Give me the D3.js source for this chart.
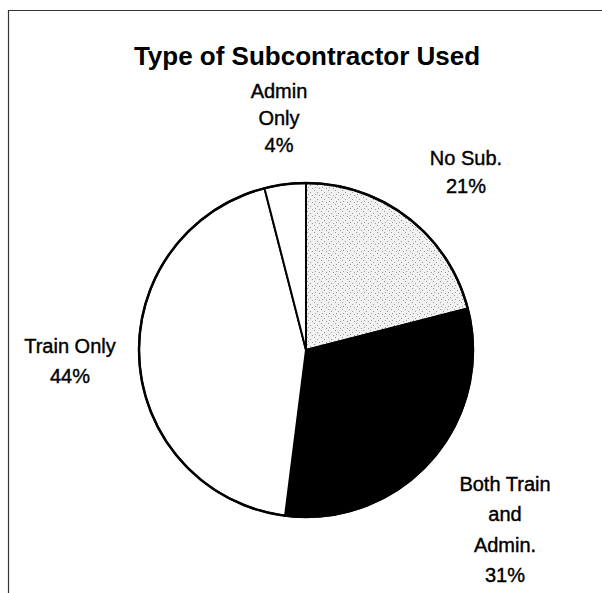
<!DOCTYPE html>
<html>
<head>
<meta charset="utf-8">
<script src="https://cdn.jsdelivr.net/npm/d3@7"></script>
<style>
  body { margin: 0; background: #fff; }
  text { font-family: "Liberation Sans", Arial, sans-serif; fill: #000; }
</style>
</head>
<body>
<script>
// data
var categories = ["No Sub.", "Both Train and Admin.", "Train Only", "Admin Only"];
var shares = [21, 31, 44, 4];
var labelLines = [["No Sub.", "21%"], ["Both Train", "and", "Admin.", "31%"], ["Train Only", "44%"], ["Admin", "Only", "4%"]];
var title = "Type of Subcontractor Used";

var width = 602, height = 593;
var svg = d3.select("body").append("svg")
    .attr("width", width)
    .attr("height", height);

// speckled grey for the "No Sub." slice
var defs = svg.append("defs");
var pat = defs.append("pattern")
    .attr("id", "speckle")
    .attr("patternUnits", "userSpaceOnUse")
    .attr("width", 7).attr("height", 7);
pat.append("rect").attr("width", 7).attr("height", 7).attr("fill", "#f1f1f1");
[[1, 1], [4, 3], [2, 5], [6, 6]].forEach(function(p) {
  pat.append("rect").attr("x", p[0]).attr("y", p[1]).attr("width", 1).attr("height", 1).attr("fill", "#9a9a9a");
});

var fills = d3.scaleOrdinal()
    .domain(categories)
    .range(["url(#speckle)", "#000", "#fff", "#fff"]);

// frame (top and left edges only)
svg.append("line").attr("x1", 8).attr("y1", 10.5).attr("x2", 602).attr("y2", 10.5)
   .attr("stroke", "#333").attr("stroke-width", 1.2);
svg.append("line").attr("x1", 8.5).attr("y1", 10).attr("x2", 8.5).attr("y2", 593)
   .attr("stroke", "#333").attr("stroke-width", 1.2);

svg.append("text")
   .attr("x", 307)
   .attr("y", 65)
   .attr("text-anchor", "middle")
   .style("font-weight", "bold")
   .style("font-size", "26px")
   .text(title);

var cx = 306, cy = 350, radius = 167;

var pie = d3.pie()
    .sort(null)
    .value(function(d) { return d; });

var arc = d3.arc()
    .innerRadius(0)
    .outerRadius(radius);

var g = svg.append("g")
    .attr("transform", "translate(" + cx + "," + cy + ")");

var arcs = pie(shares);

g.selectAll("path")
 .data(arcs)
 .enter()
 .append("path")
 .attr("d", arc)
 .attr("fill", function(d, i) { return fills(categories[i]); })
 .attr("stroke", "#000")
 .attr("stroke-width", 2)
 .attr("stroke-linejoin", "round");

g.append("circle")
 .attr("r", radius)
 .attr("fill", "none")
 .attr("stroke", "#000")
 .attr("stroke-width", 2.5);

// label anchors (x centre, first baseline, line step)
var labelLayout = [
  {x: 466, y: 165, step: 27.5},
  {x: 505, y: 491, step: 30.3},
  {x: 70, y: 353, step: 30},
  {x: 279, y: 98, step: 27}
];

arcs.forEach(function(d, i) {
  var lay = labelLayout[i];
  var t = svg.append("text")
     .attr("text-anchor", "middle")
     .style("font-size", "20px")
     .style("stroke", "#000")
     .style("stroke-width", 0.4);
  labelLines[i].forEach(function(line, j) {
    t.append("tspan")
     .attr("x", lay.x)
     .attr("y", lay.y + j * lay.step)
     .text(line);
  });
});
</script>
</body>
</html>
